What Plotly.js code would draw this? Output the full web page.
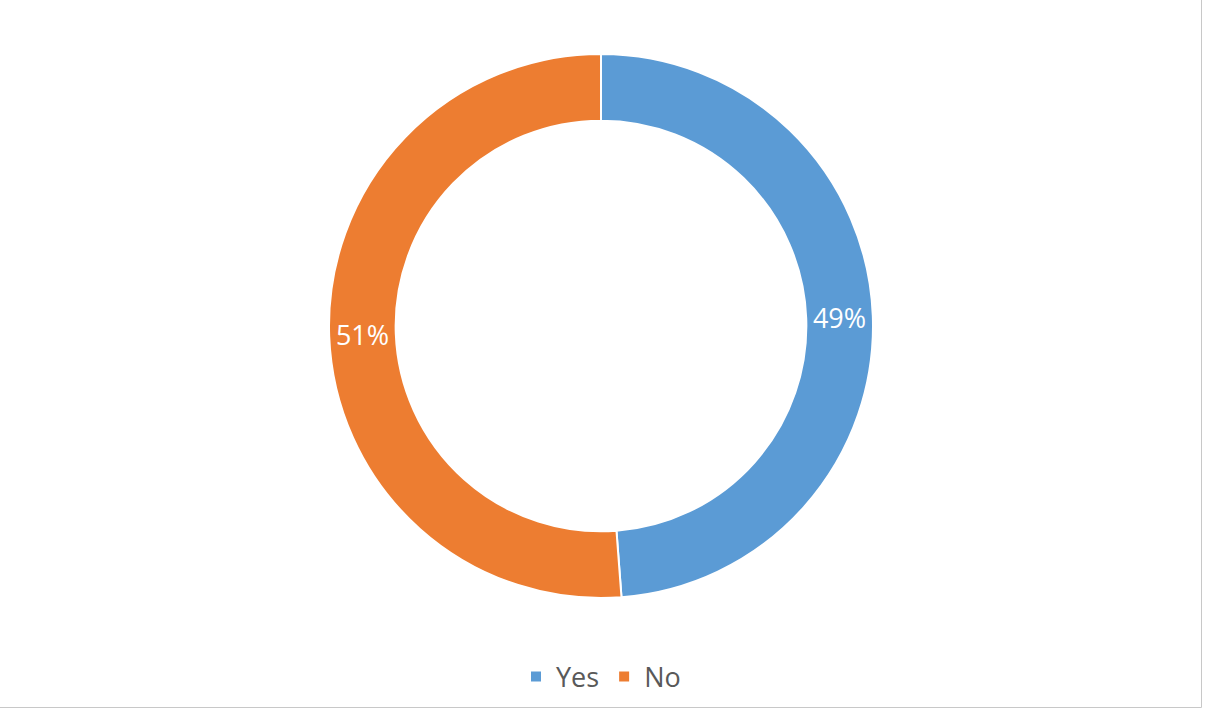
<!DOCTYPE html>
<html>
<head>
<meta charset="utf-8">
<script src="https://cdn.plot.ly/plotly-3.0.1.min.js"></script>
<style>
html,body{margin:0;padding:0;background:#fff;}
#chart{width:1206px;height:712px;}
</style>
</head>
<body>
<div id="chart"></div>
<script>
const labels = ["Yes", "No"];
const values = [48.8, 51.2];
const colors = ["#5B9BD5", "#ED7D31"];

const W = 1206, H = 712;
const mL = 0, mR = 4, mT = 54, mB = 114;
const pw = W - mL - mR, ph = H - mT - mB;

const trace = {
  type: "pie",
  labels: labels,
  values: values,
  hole: 0.755,
  sort: false,
  direction: "clockwise",
  rotation: 0,
  marker: {colors: colors, line: {color: "#ffffff", width: 2}},
  texttemplate: "%{percent:.0%}",
  textposition: "inside",
  insidetextorientation: "horizontal",
  textfont: {color: "#ffffff", size: 27, family: "Open Sans, sans-serif"},
  hoverinfo: "label+percent"
};

const layout = {
  width: W, height: H,
  margin: {l: mL, r: mR, t: mT, b: mB, pad: 0},
  paper_bgcolor: "#ffffff",
  showlegend: true,
  uniformtext: {mode: "show", minsize: 27},
  legend: {
    orientation: "h",
    x: 0.5, xanchor: "center",
    y: (mT + ph - 677) / ph, yanchor: "middle",
    font: {size: 27, color: "#595959", family: "Open Sans, sans-serif"},
    itemwidth: 30,
    traceorder: "normal"
  },
  shapes: [{
    type: "rect", xref: "paper", yref: "paper",
    x0: (-mL - 0.5) / pw, x1: (1201.5 - mL) / pw,
    y0: (mT + ph - 707.5) / ph, y1: (mT + ph + 0.5) / ph,
    line: {color: "#c8c8c8", width: 1}, fillcolor: "rgba(0,0,0,0)"
  }]
};

Plotly.newPlot("chart", [trace], layout, {displayModeBar: false, staticPlot: true});
</script>
</body>
</html>
